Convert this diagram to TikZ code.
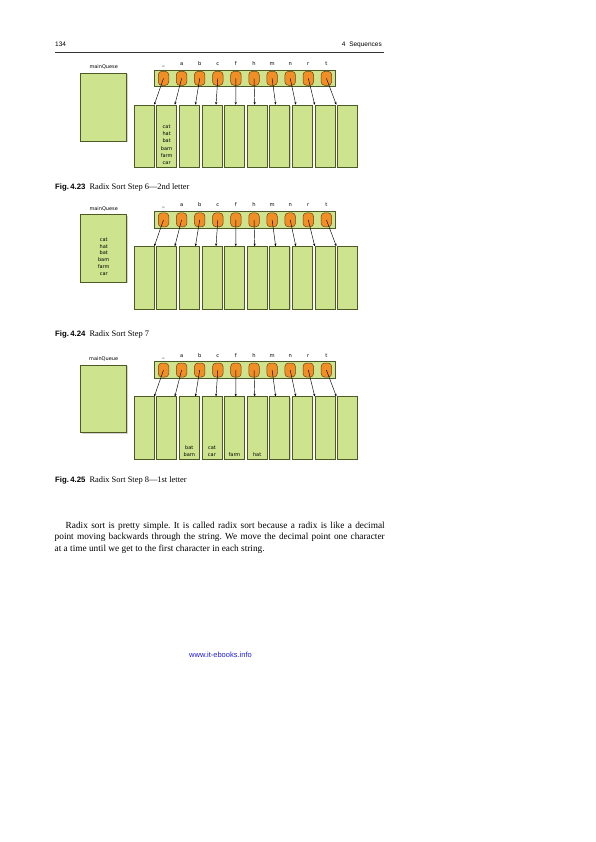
\documentclass[tikz,border=0pt]{standalone}
\usepackage{fontspec}
\setmainfont{Liberation Serif}
\setsansfont{Liberation Sans}
\newfontfamily\lucida{DejaVu Sans}
\usetikzlibrary{arrows.meta,shadows,calc}
\definecolor{boxgreen}{RGB}{206,227,142}
\definecolor{boxedge}{RGB}{78,90,38}
\definecolor{orangefill}{RGB}{242,142,38}
\definecolor{orangeedge}{RGB}{110,66,18}
\definecolor{urlblue}{RGB}{30,30,230}
\tikzset{
  greenbox/.style={draw=boxedge, fill=boxgreen, line width=0.6pt, inner sep=0pt,
    drop shadow={shadow xshift=0.8pt, shadow yshift=-0.8pt, opacity=0.35}},
  bucket/.style={greenbox, minimum width=20pt, minimum height=62.3pt},
  queuebox/.style={greenbox, minimum width=46pt, minimum height=67.7pt},
  barbox/.style={greenbox, minimum width=180.7pt, minimum height=16.7pt},
  orangebox/.style={draw=orangeedge, fill=orangefill, line width=0.5pt, rounded corners=3.5pt,
    minimum width=10.5pt, minimum height=14pt, inner sep=0pt},
  letter/.style={font=\lucida\fontsize{5.2}{6}\selectfont, inner sep=0pt, anchor=base},
  qlabel/.style={font=\lucida\fontsize{5}{6}\selectfont, inner sep=0pt, anchor=base},
  content/.style={font=\lucida\fontsize{5}{7.3}\selectfont, align=center, inner sep=0pt},
  arr/.style={-{Stealth[length=2.6pt,width=2.2pt]}, line width=0.45pt, black},
  caption/.style={inner sep=0pt, anchor=base west},
  header/.style={font=\sffamily\fontsize{6.5}{8}\selectfont, inner sep=0pt, anchor=base},
}
\newcommand{\figlab}[1]{{\sffamily\bfseries\fontsize{7.8}{9}\selectfont Fig.\,#1}\hspace{4pt}}
\newcommand{\captext}[1]{{\fontsize{8.4}{10}\selectfont #1}}
\frenchspacing
\begin{document}
\begin{tikzpicture}[x=1pt,y=-1pt]
\useasboundingbox (0,0) rectangle (595,842);
\fill[white] (0,0) rectangle (595,842);
% header
\node[header, anchor=base west] (pnum) at (55,46.5) {134};
\node[header, anchor=base east] (chap) at (382,46.5) {4\hspace{0.6em}Sequences};
\coordinate (rl) at (55,52.7);
\coordinate (rr) at (384,52.7);
\draw[line width=0.4pt, black!80] (rl) -- (rr);
% three figures
\foreach \f/\dy/\ql in {1/0/mainQuese, 2/141.5/mainQuese, 3/291.7/mainQueue} {
  \node[qlabel] (ql\f) at (103.7,{69+\dy}) {\ql};
  \node[queuebox] (q\f) at (103.7,{107.15+\dy}) {};
  \foreach \j in {1,...,10} {
    \node[bucket] (b\f-\j) at ({144+22.63*(\j-1)},{136.15+\dy}) {};
  }
  \node[barbox] (bar\f) at (244.65,{78.35+\dy}) {};
  \foreach \j/\ltr in {1/\_,2/a,3/b,4/c,5/f,6/h,7/m,8/n,9/r,10/t} {
    \node[orangebox] (o\f-\j) at ({163.5+18.1*(\j-1)},{78.35+\dy}) {};
    \node[letter] (l\f-\j) at ({163.5+18.1*(\j-1)},{65.5+\dy}) {\ltr};
  }
  \foreach \j/\fr in {1/1.0,2/0.9,3/0.8,4/0.7,5/0.56,6/0.38,7/0.3,8/0.18,9/0.0,10/-0.05} {
    \draw[arr] (o\f-\j.center) -- ($(b\f-\j.north west)!\fr!(b\f-\j.north east)$);
  }
}
% contents
\node[content, anchor=south] (t1) at ($(b1-2.south)+(0,-2.5)$) {cat\\hat\\bat\\barn\\farm\\car};
\node[content, font=\lucida\fontsize{5}{6.8}\selectfont] (t2) at ($(q2.center)+(0,8)$) {cat\\hat\\bat\\barn\\farm\\car};
\node[content, anchor=south] (t3a) at ($(b3-3.south)+(0,-2.5)$) {bat\\barn};
\node[content, anchor=south] (t3b) at ($(b3-4.south)+(0,-2.5)$) {cat\\car};
\node[content, anchor=south] (t3c) at ($(b3-5.south)+(0,-2.5)$) {farm};
\node[content, anchor=south] (t3d) at ($(b3-6.south)+(0,-2.5)$) {hat};
% captions
\node[caption] (cap1) at (55,189.5) {\figlab{4.23}\captext{Radix Sort Step 6—2nd letter}};
\node[caption] (cap2) at (55,336) {\figlab{4.24}\captext{Radix Sort Step 7}};
\node[caption] (cap3) at (55,482.5) {\figlab{4.25}\captext{Radix Sort Step 8—1st letter}};
% body text
\node[anchor=north west, inner sep=0pt, text width=330pt, align=justify, font=\fontsize{9.3}{11.8}\selectfont] (body) at (54.5,521.5) {\frenchspacing\hspace*{11pt}Radix sort is pretty simple. It is called radix sort because a radix is like a decimal\linebreak point moving backwards through the string. We move the decimal point one character\linebreak at a time until we get to the first character in each string.};
% url
\node[inner sep=0pt, text=urlblue, font=\sffamily\fontsize{7.5}{9}\selectfont] (url) at (220.5,655) {www.it-ebooks.info};
\end{tikzpicture}
\end{document}
